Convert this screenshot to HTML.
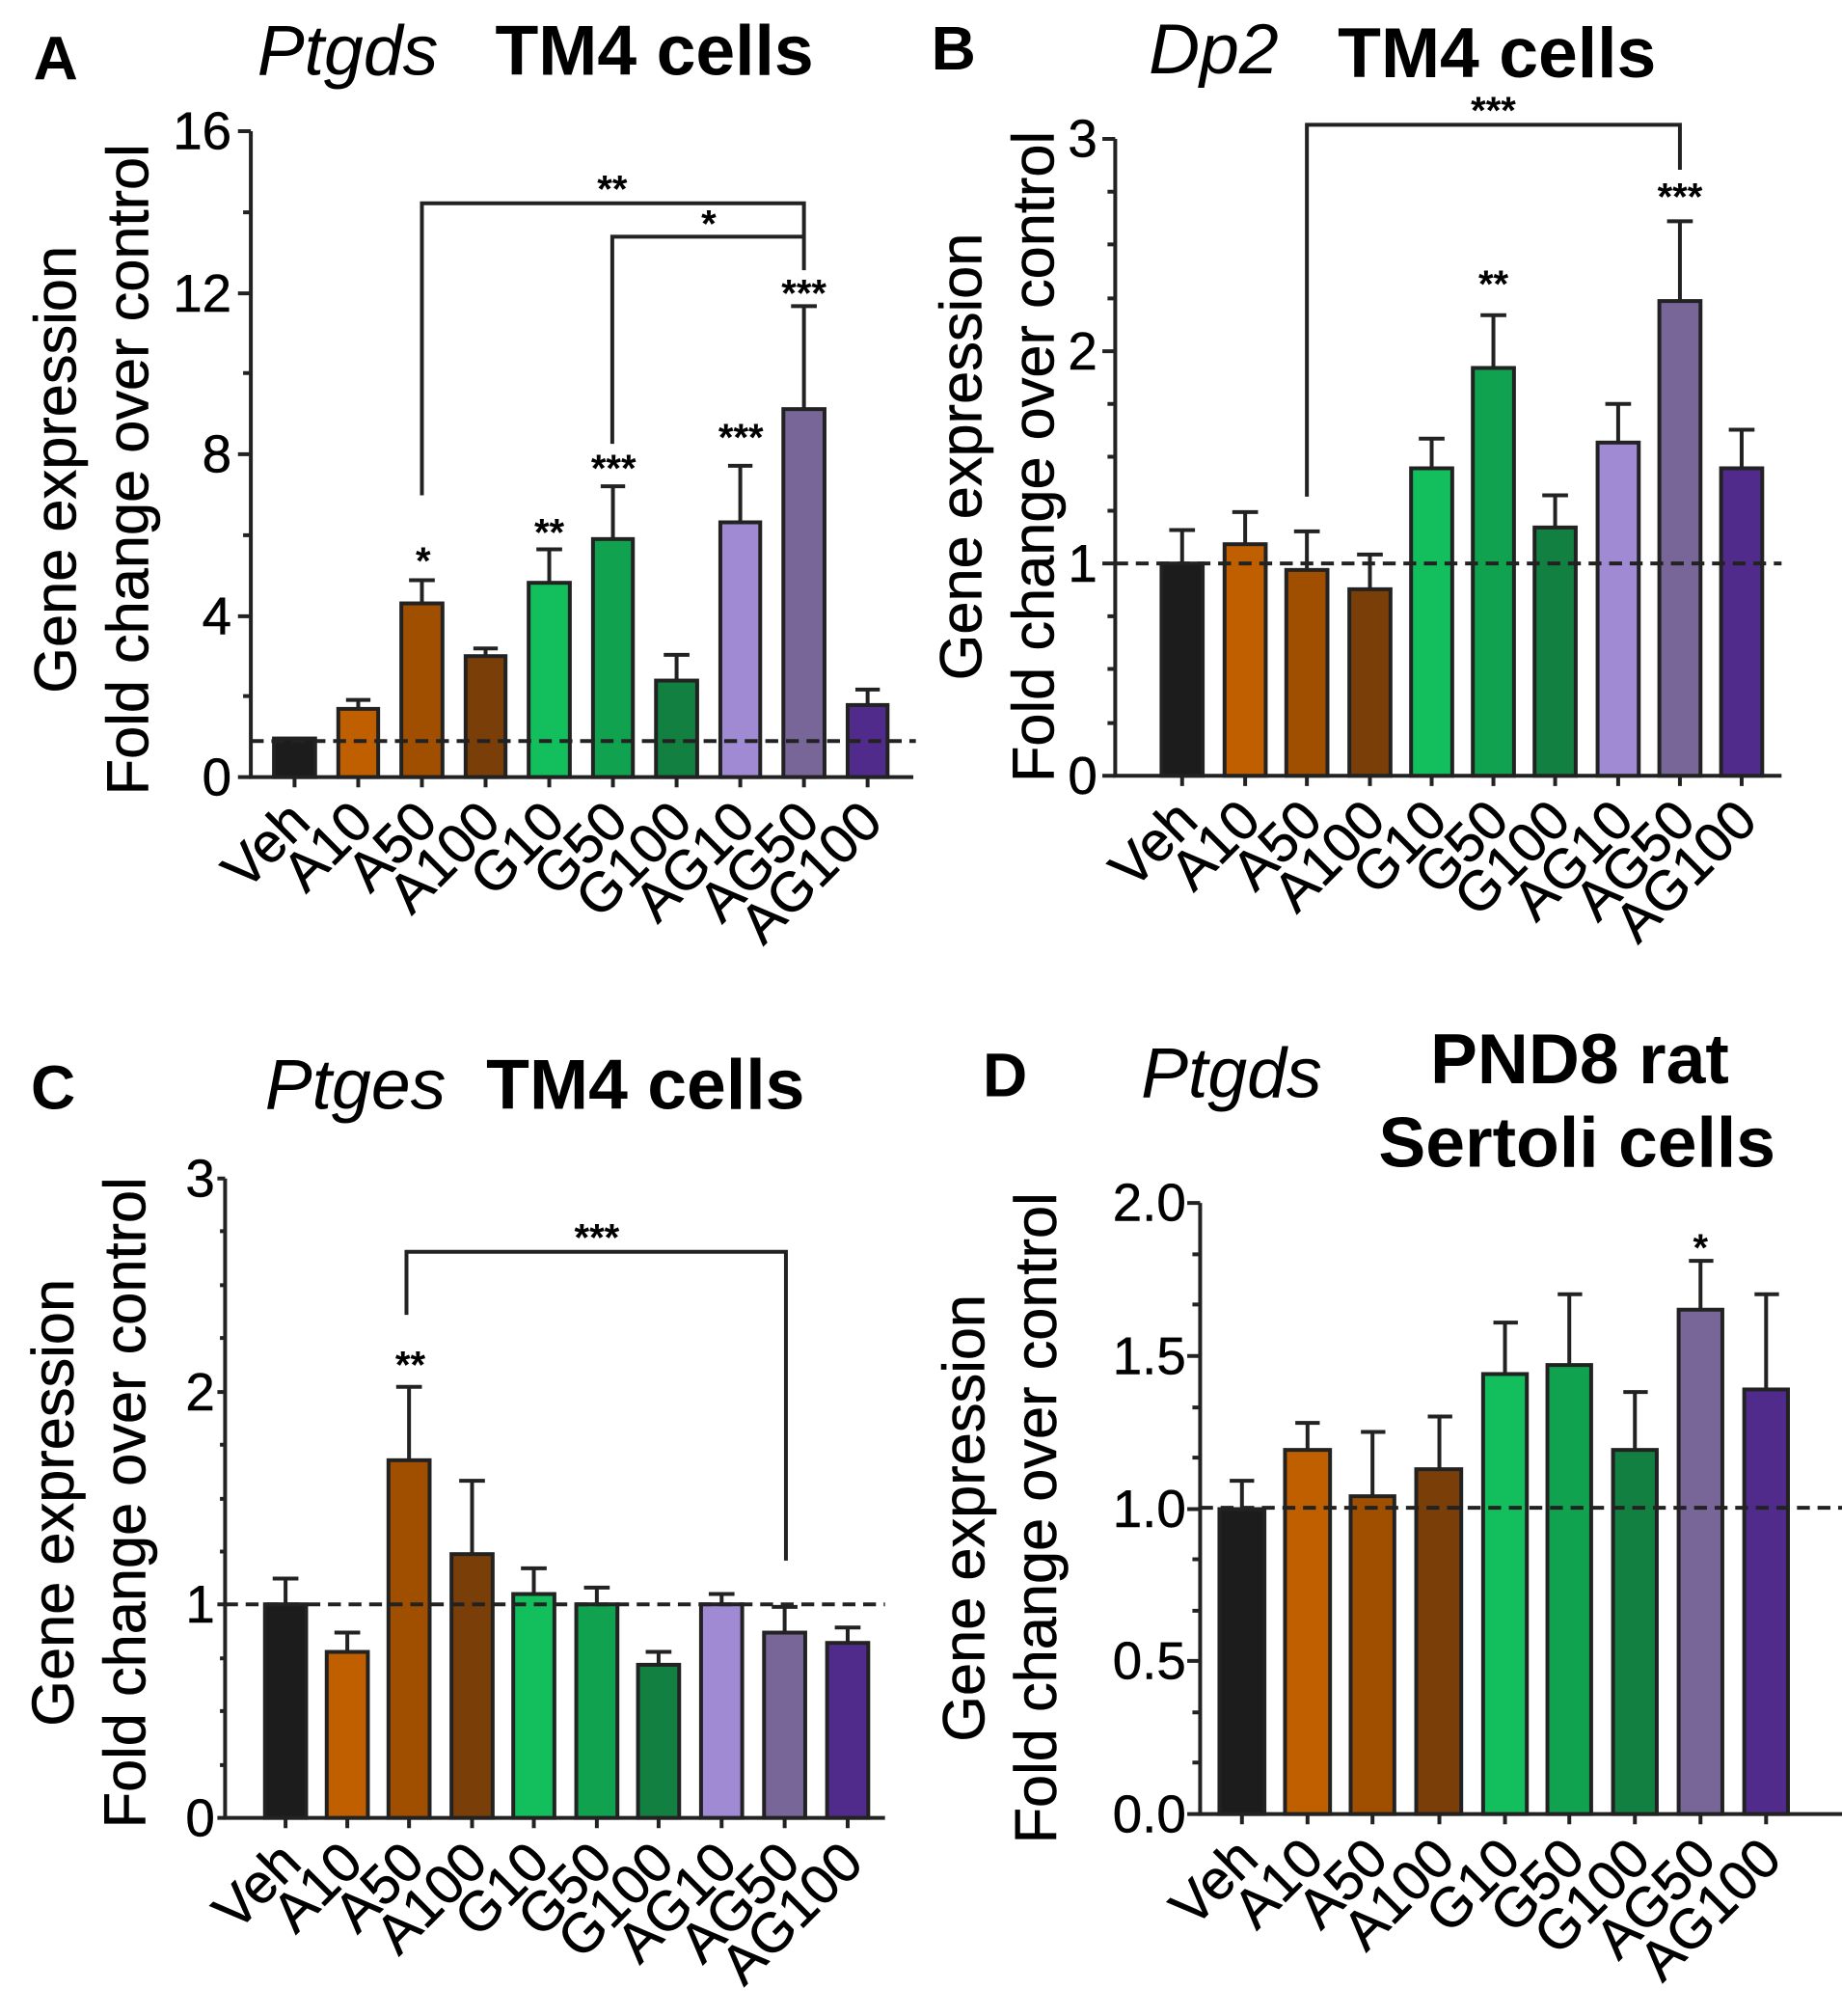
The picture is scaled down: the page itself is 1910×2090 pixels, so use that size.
<!DOCTYPE html>
<html><head><meta charset="utf-8"><style>
html,body{margin:0;padding:0;background:#fff;}
svg{display:block;}
text{font-family:"Liberation Sans",Arial,Helvetica,sans-serif;fill:#000;}
.t{font-size:41px;stroke:#000;stroke-width:0.4px;}
.yl{font-size:46px;stroke:#000;stroke-width:0.4px;}
.xl{font-size:43px;stroke:#000;stroke-width:0.5px;}
.st{font-size:30px;font-weight:bold;}
.ttl{font-size:55px;font-weight:bold;}
.it{font-size:55px;font-style:italic;}
.let{font-size:48px;font-weight:bold;}
.ax{stroke:#222;stroke-width:3;fill:none;}
.b{stroke:#222;stroke-width:3;}
.e{stroke:#222;stroke-width:3;fill:none;}
.d{stroke:#222;stroke-width:3;stroke-dasharray:10,6;fill:none;}
</style></head><body>
<svg width="1910" height="2090" viewBox="0 0 1432 1567" preserveAspectRatio="none" xmlns="http://www.w3.org/2000/svg">

<!-- ============ PANEL A ============ -->
<text class="let" x="26" y="62">A</text>
<text class="it" x="200" y="58">Ptgds</text>
<text class="ttl" x="385" y="58">TM4 cells</text>
<text class="yl" transform="translate(59,365) rotate(-90)" text-anchor="middle">Gene expression</text>
<text class="yl" transform="translate(115,365) rotate(-90)" text-anchor="middle">Fold change over control</text>
<path class="ax" d="M195,102 V604 H710"/>
<path class="ax" d="M185,102H195M185,228H195M185,353H195M185,479H195M185,604H195M189,165H195M189,290H195M189,416H195M189,541H195"/>
<g class="t" text-anchor="end">
<text x="180" y="116">16</text><text x="180" y="242">12</text><text x="180" y="367">8</text><text x="180" y="493">4</text><text x="180" y="618">0</text>
</g>
<g class="b">
<rect x="213" y="574" width="32" height="30" fill="#1c1c1c"/>
<rect x="263" y="551" width="31" height="53" fill="#c05f00"/>
<rect x="312" y="469" width="32" height="135" fill="#a04f00"/>
<rect x="362" y="510" width="31" height="94" fill="#7a3e08"/>
<rect x="411" y="453" width="32" height="151" fill="#12bf5c"/>
<rect x="461" y="419" width="31" height="185" fill="#10a24f"/>
<rect x="510" y="529" width="32" height="75" fill="#128040"/>
<rect x="560" y="406" width="31" height="198" fill="#a08ad4"/>
<rect x="609" y="318" width="32" height="286" fill="#786699"/>
<rect x="659" y="548" width="31" height="56" fill="#512b8b"/>
</g>
<path class="e" d="M278.5,551V544M269,544H288M328,469V451M318,451H338M377.5,510V504M368,504H387M427,453V427M417,427H437M476.5,419V378M467,378H486M526,529V509M516,509H536M575.5,406V362M566,362H585M625,318V238M615,238H635M674.5,548V536M665,536H684"/>
<path class="d" d="M195,576H712"/>
<path class="ax" d="M229,604v8M278.5,604v8M328,604v8M377.5,604v8M427,604v8M476.5,604v8M526,604v8M575.5,604v8M625,604v8M674.5,604v8"/>
<path class="ax" d="M328,385V158H625V210M476,345V184H625"/>
<g class="st" text-anchor="middle">
<text x="476" y="157">**</text><text x="551" y="184">*</text>
<text x="329" y="446">*</text><text x="427" y="424">**</text><text x="477" y="374">***</text><text x="576" y="350">***</text><text x="625" y="238">***</text>
</g>
<g class="xl" text-anchor="end">
<text transform="translate(243,641) rotate(-45)">Veh</text>
<text transform="translate(292,641) rotate(-45)">A10</text>
<text transform="translate(342,641) rotate(-45)">A50</text>
<text transform="translate(391,641) rotate(-45)">A100</text>
<text transform="translate(441,641) rotate(-45)">G10</text>
<text transform="translate(490,641) rotate(-45)">G50</text>
<text transform="translate(540,641) rotate(-45)">G100</text>
<text transform="translate(589,641) rotate(-45)">AG10</text>
<text transform="translate(639,641) rotate(-45)">AG50</text>
<text transform="translate(688,641) rotate(-45)">AG100</text>
</g>

<!-- ============ PANEL B ============ -->
<text class="let" x="724" y="54">B</text>
<text class="it" x="893" y="57">Dp2</text>
<text class="ttl" x="1040" y="60">TM4 cells</text>
<text class="yl" transform="translate(763,355) rotate(-90)" text-anchor="middle">Gene expression</text>
<text class="yl" transform="translate(819,355) rotate(-90)" text-anchor="middle">Fold change over control</text>
<path class="ax" d="M867,108V603H1385"/>
<path class="ax" d="M857,108H867M857,273H867M857,438H867M857,603H867M861,149H867M861,190H867M861,232H867M861,314H867M861,355H867M861,397H867M861,479H867M861,520H867M861,562H867"/>
<g class="t" text-anchor="end">
<text x="853" y="122">3</text><text x="853" y="287">2</text><text x="853" y="452">1</text><text x="853" y="617">0</text>
</g>
<g class="b">
<rect x="903" y="438" width="32" height="165" fill="#1c1c1c"/>
<rect x="952" y="423" width="32" height="180" fill="#c05f00"/>
<rect x="1000" y="443" width="32" height="160" fill="#a04f00"/>
<rect x="1049" y="458" width="32" height="145" fill="#7a3e08"/>
<rect x="1097" y="364" width="32" height="239" fill="#12bf5c"/>
<rect x="1145" y="286" width="32" height="317" fill="#10a24f"/>
<rect x="1193" y="410" width="32" height="193" fill="#128040"/>
<rect x="1242" y="344" width="32" height="259" fill="#a08ad4"/>
<rect x="1290" y="234" width="32" height="369" fill="#786699"/>
<rect x="1338" y="364" width="32" height="239" fill="#512b8b"/>
</g>
<path class="e" d="M919,438V412M909,412H929M968,423V398M958,398H978M1016,443V413M1006,413H1026M1065,458V431M1055,431H1075M1113,364V341M1103,341H1123M1161,286V245M1151,245H1171M1209,410V385M1199,385H1219M1258,344V314M1248,314H1268M1306,234V172M1296,172H1316M1354,364V334M1344,334H1364"/>
<path class="d" d="M867,438H1385"/>
<path class="ax" d="M919,603v8M968,603v8M1016,603v8M1065,603v8M1113,603v8M1161,603v8M1209,603v8M1258,603v8M1306,603v8M1354,603v8"/>
<path class="ax" d="M1016,386V97H1306V132"/>
<g class="st" text-anchor="middle">
<text x="1161" y="96">***</text><text x="1161" y="231">**</text><text x="1306" y="163">***</text>
</g>
<g class="xl" text-anchor="end">
<text transform="translate(933,640) rotate(-45)">Veh</text>
<text transform="translate(982,640) rotate(-45)">A10</text>
<text transform="translate(1030,640) rotate(-45)">A50</text>
<text transform="translate(1079,640) rotate(-45)">A100</text>
<text transform="translate(1127,640) rotate(-45)">G10</text>
<text transform="translate(1175,640) rotate(-45)">G50</text>
<text transform="translate(1223,640) rotate(-45)">G100</text>
<text transform="translate(1272,640) rotate(-45)">AG10</text>
<text transform="translate(1320,640) rotate(-45)">AG50</text>
<text transform="translate(1368,640) rotate(-45)">AG100</text>
</g>

<!-- ============ PANEL C ============ -->
<text class="let" x="24" y="862">C</text>
<text class="it" x="206" y="862">Ptges</text>
<text class="ttl" x="378" y="862">TM4 cells</text>
<text class="yl" transform="translate(57,1168) rotate(-90)" text-anchor="middle">Gene expression</text>
<text class="yl" transform="translate(113,1168) rotate(-90)" text-anchor="middle">Fold change over control</text>
<path class="ax" d="M175,916V1413H688"/>
<path class="ax" d="M169,916H175M169,1082H175M169,1247H175M169,1413H175M171,957H175M171,999H175M171,1040H175M171,1123H175M171,1165H175M171,1206H175M171,1289H175M171,1330H175M171,1372H175"/>
<g class="t" text-anchor="end">
<text x="167" y="930">3</text><text x="167" y="1096">2</text><text x="167" y="1261">1</text><text x="167" y="1427">0</text>
</g>
<g class="b">
<rect x="206" y="1247" width="32" height="166" fill="#1c1c1c"/>
<rect x="254" y="1284" width="32" height="129" fill="#c05f00"/>
<rect x="302" y="1135" width="32" height="278" fill="#a04f00"/>
<rect x="351" y="1208" width="32" height="205" fill="#7a3e08"/>
<rect x="399" y="1239" width="32" height="174" fill="#12bf5c"/>
<rect x="448" y="1247" width="32" height="166" fill="#10a24f"/>
<rect x="496" y="1294" width="32" height="119" fill="#128040"/>
<rect x="545" y="1247" width="32" height="166" fill="#a08ad4"/>
<rect x="594" y="1269" width="32" height="144" fill="#786699"/>
<rect x="643" y="1277" width="32" height="136" fill="#512b8b"/>
</g>
<path class="e" d="M222,1247V1227M212,1227H232M270,1284V1269M260,1269H280M318,1135V1078M308,1078H328M367,1208V1151M357,1151H377M415,1239V1219M405,1219H425M464,1247V1234M454,1234H474M512,1294V1284M502,1284H522M561,1247V1239M551,1239H571M610,1269V1249M600,1249H620M659,1277V1265M649,1265H669"/>
<path class="d" d="M175,1247H688"/>
<path class="ax" d="M222,1413v8M270,1413v8M318,1413v8M367,1413v8M415,1413v8M464,1413v8M512,1413v8M561,1413v8M610,1413v8M659,1413v8"/>
<path class="ax" d="M316,1022V973H611V1213"/>
<g class="st" text-anchor="middle">
<text x="464" y="972">***</text><text x="319" y="1071">**</text>
</g>
<g class="xl" text-anchor="end">
<text transform="translate(236,1450) rotate(-45)">Veh</text>
<text transform="translate(284,1450) rotate(-45)">A10</text>
<text transform="translate(332,1450) rotate(-45)">A50</text>
<text transform="translate(381,1450) rotate(-45)">A100</text>
<text transform="translate(429,1450) rotate(-45)">G10</text>
<text transform="translate(478,1450) rotate(-45)">G50</text>
<text transform="translate(526,1450) rotate(-45)">G100</text>
<text transform="translate(575,1450) rotate(-45)">AG10</text>
<text transform="translate(624,1450) rotate(-45)">AG50</text>
<text transform="translate(673,1450) rotate(-45)">AG100</text>
</g>

<!-- ============ PANEL D ============ -->
<text class="let" x="764" y="852">D</text>
<text class="it" x="887" y="853">Ptgds</text>
<text class="ttl" x="1228" y="842" text-anchor="middle">PND8 rat</text>
<text class="ttl" x="1226" y="907" text-anchor="middle">Sertoli cells</text>
<text class="yl" transform="translate(765,1180) rotate(-90)" text-anchor="middle">Gene expression</text>
<text class="yl" transform="translate(821,1180) rotate(-90)" text-anchor="middle">Fold change over control</text>
<path class="ax" d="M933,935V1410H1432"/>
<path class="ax" d="M923,935H933M923,1054H933M923,1173H933M923,1291H933M923,1410H933M927,975H933M927,1014H933M927,1094H933M927,1133H933M927,1212H933M927,1252H933M927,1331H933M927,1370H933"/>
<g class="t" text-anchor="end">
<text x="922" y="949">2.0</text><text x="922" y="1068">1.5</text><text x="922" y="1187">1.0</text><text x="922" y="1305">0.5</text><text x="922" y="1424">0.0</text>
</g>
<g class="b">
<rect x="948" y="1173" width="35" height="237" fill="#1c1c1c"/>
<rect x="999" y="1127" width="35" height="283" fill="#c05f00"/>
<rect x="1050" y="1163" width="34" height="247" fill="#a04f00"/>
<rect x="1101" y="1142" width="35" height="268" fill="#7a3e08"/>
<rect x="1153" y="1068" width="34" height="342" fill="#12bf5c"/>
<rect x="1203" y="1061" width="34" height="349" fill="#10a24f"/>
<rect x="1254" y="1127" width="34" height="283" fill="#128040"/>
<rect x="1305" y="1018" width="34" height="392" fill="#786699"/>
<rect x="1356" y="1080" width="34" height="330" fill="#512b8b"/>
</g>
<path class="e" d="M965.5,1173V1151M956,1151H975M1016.5,1127V1106M1007,1106H1026M1067,1163V1113M1058,1113H1077M1119,1142V1101M1110,1101H1129M1170,1068V1028M1161,1028H1180M1220,1061V1006M1211,1006H1230M1271,1127V1082M1262,1082H1281M1322,1018V980M1313,980H1332M1373,1080V1006M1364,1006H1383"/>
<path class="d" d="M933,1172H1432"/>
<path class="ax" d="M965.5,1410v8M1016.5,1410v8M1067,1410v8M1119,1410v8M1170,1410v8M1220,1410v8M1271,1410v8M1322,1410v8M1373,1410v8"/>
<g class="st" text-anchor="middle"><text x="1322" y="980">*</text></g>
<g class="xl" text-anchor="end">
<text transform="translate(980,1447) rotate(-45)">Veh</text>
<text transform="translate(1031,1447) rotate(-45)">A10</text>
<text transform="translate(1081,1447) rotate(-45)">A50</text>
<text transform="translate(1133,1447) rotate(-45)">A100</text>
<text transform="translate(1184,1447) rotate(-45)">G10</text>
<text transform="translate(1234,1447) rotate(-45)">G50</text>
<text transform="translate(1285,1447) rotate(-45)">G100</text>
<text transform="translate(1336,1447) rotate(-45)">AG50</text>
<text transform="translate(1387,1447) rotate(-45)">AG100</text>
</g>
</svg>
</body></html>
